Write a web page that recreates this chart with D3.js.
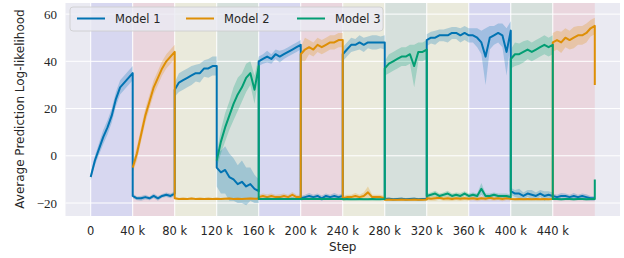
<!DOCTYPE html>
<html lang="en">
<head>
  <meta charset="UTF-8">
  <title>Average Prediction Log-likelihood per task</title>
  <script src="https://d3js.org/d3.v7.min.js"></script>
  <style>
    body { margin: 0; background: #fff; }
    .tick-x { font-family: "DejaVu Sans", sans-serif; font-size: 11.5px; fill: #262626; }
    .tick-y { font-family: "Liberation Serif", serif; font-size: 13px; fill: #262626; }
    .axis-label { font-family: "DejaVu Sans", sans-serif; font-size: 12px; fill: #262626; }
    .legend-text { font-family: "DejaVu Sans", sans-serif; font-size: 11.5px; fill: #262626; }
  </style>
</head>
<body>
<script>
  // task boundaries (steps) and sample offsets inside each task
  const taskStarts = [0, 40000, 80000, 120000, 160000, 200000, 240000, 280000, 320000, 360000, 400000, 440000];
  const offsets = [0, 4000, 8000, 12000, 16000, 20000, 24000, 28000, 32000, 36000, 40000];
  const taskShade = ["blue", "pink", "yellow", "teal", "blue", "pink", "yellow", "teal", "yellow", "blue", "teal", "pink"];
  const xTicks = [0, 40000, 80000, 120000, 160000, 200000, 240000, 280000, 320000, 360000, 400000, 440000];
  const yTicks = [-20, 0, 20, 40, 60];
  const modelNames = ["Model 1", "Model 2", "Model 3"];

  // mean values per task (null = not trained yet)
  const model1 = [
    [-9, -2, 3, 8, 12, 17, 24, 29, 31, 33, 35],
    [-17, -18, -18, -17.5, -18, -17, -18, -17, -16.5, -17, -16],
    [28, 31, 32, 33, 34, 35, 35, 37, 37, 38, 38],
    [-5, -7, -6, -9, -10, -12, -11, -13, -12, -14, -15],
    [40, 41, 42, 41, 43, 42, 43, 44, 45, 46, 47],
    [-18, -17.5, -17, -17.5, -17, -18, -17, -17.5, -17, -17.5, -17],
    [43, 45, 47, 47, 48, 47, 48, 48, 48, 48, 48],
    [-18.3, -18.2, -18.4, -18.3, -18.2, -18.4, -18.3, -18.2, -18.4, -18.3, -18.3],
    [49, 50, 50, 51, 51, 51, 52, 52, 51, 52, 51],
    [51, 51, 50, 48, 42, 50, 51, 52, 51, 44, 53],
    [-15, -16, -16, -17, -16, -16.5, -17, -16, -17, -16.5, -17],
    [-17, -17.5, -17, -17, -17.5, -17, -17.5, -17, -17.5, -18, -18]
  ];
  const model2 = [
    null,
    [-5, 1, 9, 17, 23, 29, 33, 37, 40, 42, 44],
    [-18, -18.3, -18.2, -18.3, -18.1, -18.3, -18.2, -18.3, -18.2, -18.3, -18.2],
    [-18.2, -18.3, -18.2, -18.1, -18.3, -18.2, -18.3, -18.2, -18.1, -18.2, -18.2],
    [-17.5, -17, -17.5, -17, -17.5, -17.5, -17, -17.5, -16.5, -17.5, -17.5],
    [43, 45, 46, 45, 47, 46, 47, 48, 48, 49, 49],
    [-18, -17.5, -17.5, -17, -17.5, -17, -15.5, -17.5, -17.5, -17.5, -18],
    [-18.6, -18.5, -18.6, -18.6, -18.5, -18.6, -18.6, -18.5, -18.6, -18.6, -18.5],
    [-18, -18.2, -18, -17.8, -18.2, -18, -18.3, -18, -18.2, -18, -18.2],
    [-18.2, -18, -18.3, -18, -18.2, -17.8, -18.2, -18, -18.3, -18, -18.2],
    [-18.3, -18.4, -18.3, -18.4, -18.3, -18.4, -18.3, -18.4, -18.3, -18.4, -18.3],
    [48, 49, 48, 50, 49, 50, 51, 51, 52, 54, 55]
  ];
  const model3 = [
    null, null, null,
    [-2, 6, 12, 17, 22, 26, 29, 33, 35, 28, 38],
    [-18.3, -18.3, -18.2, -18.3, -18.3, -18.2, -18.3, -18.3, -18.2, -18.3, -18.3],
    [-18.2, -18.3, -18.3, -18.2, -18.3, -18.3, -18.2, -18.3, -18.3, -18.2, -18.3],
    [-18.4, -18.3, -18.4, -18.4, -18.3, -18.4, -18.4, -18.3, -18.4, -18.4, -18.3],
    [37, 39, 40, 41, 42, 42, 43, 38, 44, 44, 45],
    [-17, -16.5, -16, -17, -16.5, -16, -17, -16.5, -17, -16, -17],
    [-17, -16.5, -17, -14, -17, -17, -16.5, -17, -17, -17, -17.5],
    [41, 43, 43, 44, 45, 44, 45, 46, 47, 46, 47],
    [-18.3, -18.3, -18.4, -18.3, -18.3, -18.4, -18.3, -18.3, -18.4, -18.3, -18.3]
  ];
  const finalValues = [-18, 30, -10];

  // half-width of the shaded band per task
  const spread1 = [
    [1.5, 2, 2.5, 3, 3, 3, 3, 3, 3, 3, 3],
    [1, 0.8, 1, 1, 0.8, 1, 1, 0.8, 1, 1, 1],
    [3, 4, 4, 4, 4, 3.5, 4, 3.5, 4, 4, 4],
    [8, 9, 10, 10, 9, 8, 9, 8, 7, 6, 5],
    [2, 2, 2.5, 2, 2, 2.5, 2, 2, 2, 2, 2],
    [1, 1, 1.2, 1, 1, 1.2, 1, 1, 1.2, 1, 1],
    [3, 3, 3, 2.5, 3, 3, 2.5, 3, 3, 2.5, 3],
    [0.5, 0.5, 0.5, 0.5, 0.5, 0.5, 0.5, 0.5, 0.5, 0.5, 0.5],
    [2.5, 2.5, 3, 2.5, 2.5, 3, 2.5, 2.5, 3, 3, 3],
    [3, 3, 4, 5, 12, 5, 4, 4, 5, 10, 4],
    [1.5, 1.5, 2, 1.5, 1.5, 2, 1.5, 1.5, 2, 1.5, 1.5],
    [1, 1, 1.2, 1, 1, 1.2, 1, 1, 1.2, 1, 1]
  ];
  const spread2 = [
    null,
    [2, 3, 3, 3, 3, 3, 3, 3, 3, 3, 3],
    [0.4, 0.4, 0.4, 0.4, 0.4, 0.4, 0.4, 0.4, 0.4, 0.4, 0.4],
    [0.4, 0.4, 0.4, 0.4, 0.4, 0.4, 0.4, 0.4, 0.4, 0.4, 0.4],
    [1, 1, 1.2, 1, 1, 1.2, 1, 1, 1.2, 1, 1],
    [3, 5, 3, 3, 3, 3, 3, 3, 3, 3, 3],
    [1, 1, 1, 1.2, 1, 1.5, 2.5, 1, 1, 1, 1],
    [0.4, 0.4, 0.4, 0.4, 0.4, 0.4, 0.4, 0.4, 0.4, 0.4, 0.4],
    [0.8, 0.8, 1, 0.8, 0.8, 1, 0.8, 0.8, 1, 0.8, 0.8],
    [0.8, 0.8, 1, 0.8, 0.8, 1, 0.8, 0.8, 1, 0.8, 0.8],
    [0.4, 0.4, 0.4, 0.4, 0.4, 0.4, 0.4, 0.4, 0.4, 0.4, 0.4],
    [4, 4, 4.5, 4, 4, 4.5, 4, 4, 4, 3.5, 3.5]
  ];
  const spread3 = [
    null, null, null,
    [3, 5, 6, 6, 7, 7, 6, 6, 5, 6, 4],
    [0.4, 0.4, 0.4, 0.4, 0.4, 0.4, 0.4, 0.4, 0.4, 0.4, 0.4],
    [0.4, 0.4, 0.4, 0.4, 0.4, 0.4, 0.4, 0.4, 0.4, 0.4, 0.4],
    [0.4, 0.4, 0.4, 0.4, 0.4, 0.4, 0.4, 0.4, 0.4, 0.4, 0.4],
    [3, 4, 4, 4, 4, 4, 4, 9, 4, 4, 4],
    [1, 1, 1.2, 1, 1, 1.2, 1, 1, 1.2, 1, 1],
    [1, 1, 1, 2.5, 1, 1, 1, 1, 1, 1, 1],
    [4, 5, 4.5, 4.5, 4, 4, 4, 4, 4, 4, 4],
    [0.5, 0.5, 0.5, 0.5, 0.5, 0.5, 0.5, 0.5, 0.5, 0.5, 0.5]
  ];

  const colors = ["#0173b2", "#de8f05", "#029e73"];
  const shadeColors = { blue: "#d7d7f0", pink: "#ead6de", yellow: "#eaeadc", teal: "#d6e0dc" };

  const width = 624, height = 258;
  const x = d3.scaleLinear().domain([-24000, 504000]).range([65.5, 620]);
  const y = d3.scaleLinear().domain([-25.5, 64.7]).range([216, 3]);

  const svg = d3.select("body").append("svg")
    .attr("width", width)
    .attr("height", height);

  // plot background
  svg.append("rect")
    .attr("x", x.range()[0]).attr("y", y.range()[1])
    .attr("width", x.range()[1] - x.range()[0])
    .attr("height", y.range()[0] - y.range()[1])
    .attr("fill", "#eaeaf2");

  // task spans
  svg.selectAll(".span")
    .data(taskStarts)
    .enter().append("rect")
    .attr("x", d => x(d))
    .attr("y", y.range()[1])
    .attr("width", d => x(d + 40000) - x(d))
    .attr("height", y.range()[0] - y.range()[1])
    .attr("fill", (d, i) => shadeColors[taskShade[i]]);

  // grid
  svg.selectAll(".gx")
    .data(xTicks)
    .enter().append("line")
    .attr("x1", d => x(d)).attr("x2", d => x(d))
    .attr("y1", y.range()[1]).attr("y2", y.range()[0])
    .attr("stroke", "#fff").attr("stroke-width", 1);
  svg.selectAll(".gy")
    .data(yTicks)
    .enter().append("line")
    .attr("x1", x.range()[0]).attr("x2", x.range()[1])
    .attr("y1", d => y(d)).attr("y2", d => y(d))
    .attr("stroke", "#fff").attr("stroke-width", 1);

  // turn the per-task arrays into one point list per model
  function buildPoints(values, spreads, last) {
    const pts = [];
    values.forEach((seg, t) => {
      if (!seg) return;
      seg.forEach((v, j) => {
        pts.push({ x: taskStarts[t] + offsets[j], y: v, s: spreads[t][j] });
      });
    });
    pts.push({ x: 480000, y: last, s: 0 });
    return pts;
  }
  const series = [
    buildPoints(model1, spread1, finalValues[0]),
    buildPoints(model2, spread2, finalValues[1]),
    buildPoints(model3, spread3, finalValues[2])
  ];

  const area = d3.area()
    .x(d => x(d.x))
    .y0(d => y(d.y - d.s))
    .y1(d => y(d.y + d.s));
  const line = d3.line()
    .x(d => x(d.x))
    .y(d => y(d.y));

  series.forEach((pts, i) => {
    svg.append("path")
      .attr("d", area(pts))
      .attr("fill", colors[i])
      .attr("opacity", 0.25);
  });
  series.forEach((pts, i) => {
    svg.append("path")
      .attr("d", line(pts))
      .attr("fill", "none")
      .attr("stroke", colors[i])
      .attr("stroke-width", 2)
      .attr("stroke-linejoin", "round");
  });

  // tick labels
  svg.selectAll(".tx")
    .data(xTicks)
    .enter().append("text")
    .attr("class", "tick-x")
    .attr("x", d => x(d))
    .attr("y", 235)
    .attr("text-anchor", "middle")
    .text(d => d === 0 ? "0" : (d / 1000) + " k");
  svg.selectAll(".ty")
    .data(yTicks)
    .enter().append("text")
    .attr("class", "tick-y")
    .attr("x", 57)
    .attr("y", d => y(d) + 4.5)
    .attr("text-anchor", "end")
    .text(d => d < 0 ? "\u2212" + Math.abs(d) : d);

  svg.append("text")
    .attr("class", "axis-label")
    .attr("x", x(240000))
    .attr("y", 251)
    .attr("text-anchor", "middle")
    .text("Step");
  svg.append("text")
    .attr("class", "axis-label")
    .attr("transform", "translate(24,109) rotate(-90)")
    .attr("text-anchor", "middle")
    .text("Average Prediction Log-likelihood");

  // legend
  const legend = svg.append("g");
  legend.append("rect")
    .attr("x", 70).attr("y", 7)
    .attr("width", 313).attr("height", 24)
    .attr("rx", 3)
    .attr("fill", "#eaeaf2").attr("fill-opacity", 0.8)
    .attr("stroke", "#cccccc").attr("stroke-width", 0.8);
  const legendX = [77, 186, 297];
  modelNames.forEach((name, i) => {
    legend.append("line")
      .attr("x1", legendX[i]).attr("x2", legendX[i] + 28)
      .attr("y1", 18.5).attr("y2", 18.5)
      .attr("stroke", colors[i]).attr("stroke-width", 2);
    legend.append("text")
      .attr("class", "legend-text")
      .attr("x", legendX[i] + 38)
      .attr("y", 23)
      .text(name);
  });
</script>
</body>
</html>
